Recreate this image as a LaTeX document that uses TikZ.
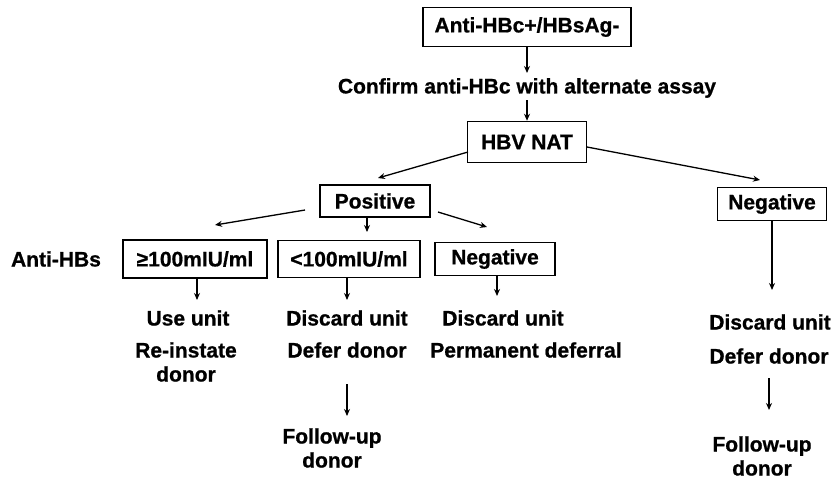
\documentclass[tikz,border=0pt]{standalone}
\usepackage{fontspec}
\setmainfont{Liberation Sans}[BoldFeatures={FakeBold=0.8}]
\usetikzlibrary{arrows.meta}
\begin{document}
\begin{tikzpicture}[x=1pt,y=-1pt,
  lbl/.style={font=\bfseries\fontsize{21}{24}\selectfont, inner sep=0pt},
  box/.style={lbl, draw, line width=1.5pt, minimum height=36pt},
  arr/.style={line width=1.3pt, -{Stealth[length=7pt,width=6pt]}}]
\useasboundingbox (0,0) rectangle (832,491);
% top
\node[box, minimum width=208pt, minimum height=39pt] (top) at (527,27) {Anti-HBc+/HBsAg-};
\node[lbl] (conf) at (527,88) {Confirm anti-HBc with alternate assay};
\node[box, minimum width=119pt, minimum height=41pt] (hbv) at (527,142) {HBV NAT};
\node[box, minimum width=110pt, minimum height=32pt] (pos) at (375,201) {Positive};
\node[box, minimum width=109pt, minimum height=33pt] (neg) at (772,204) {Negative};
% row
\node[lbl] (ahbs) at (56,259) {Anti-HBs};
\node[box, minimum width=144pt, minimum height=38pt] (hi) at (195,259) {≥100mIU/ml};
\node[box, minimum width=142pt, minimum height=37pt] (lo) at (349,259) {<100mIU/ml};
\node[box, minimum width=120pt, minimum height=33pt] (mneg) at (495,259) {Negative};
% outcomes
\node[lbl] (use) at (188,318) {Use unit};
\node[lbl] (disc1) at (347,318) {Discard unit};
\node[lbl] (disc2) at (503,318) {Discard unit};
\node[lbl] (disc3) at (770,322) {Discard unit};
\node[lbl, align=center] (rein) at (186,362) {Re-instate\\donor};
\node[lbl] (def1) at (347,350) {Defer donor};
\node[lbl] (perm) at (526,350) {Permanent deferral};
\node[lbl] (def3) at (769,356) {Defer donor};
\node[lbl, align=center] (fol1) at (332,448) {Follow-up\\donor};
\node[lbl, align=center] (fol3) at (762,456) {Follow-up\\donor};
% coordinates
\coordinate (a2) at (527,73);
\coordinate (b1) at (527,100);
\coordinate (c1) at (468,152); \coordinate (c2) at (378,178);
\coordinate (d1) at (587,147); \coordinate (d2) at (760,180);
\coordinate (e1) at (305,210); \coordinate (e2) at (215,225);
\coordinate (f1) at (367,217); \coordinate (f2) at (367,232);
\coordinate (g1) at (438,212); \coordinate (g2) at (487,227);
\coordinate (h1) at (197,300); \coordinate (h2) at (347,300);
\coordinate (h3) at (497,296); \coordinate (h4) at (772,290);
\coordinate (k1) at (347,384); \coordinate (k2) at (347,416);
\coordinate (m1) at (769,378); \coordinate (m2) at (769,410);
% arrows
\draw[arr] (top.south) -- (a2);
\draw[arr] (b1) -- (hbv.north);
\draw[arr] (c1) -- (c2);
\draw[arr] (d1) -- (d2);
\draw[arr] (e1) -- (e2);
\draw[arr] (f1) -- (f2);
\draw[arr] (g1) -- (g2);
\draw[arr] (hi.south -| h1) -- (h1);
\draw[arr] (lo.south -| h2) -- (h2);
\draw[arr] (mneg.south -| h3) -- (h3);
\draw[arr] (neg.south) -- (h4);
\draw[arr] (k1) -- (k2);
\draw[arr] (m1) -- (m2);
\end{tikzpicture}
\end{document}
